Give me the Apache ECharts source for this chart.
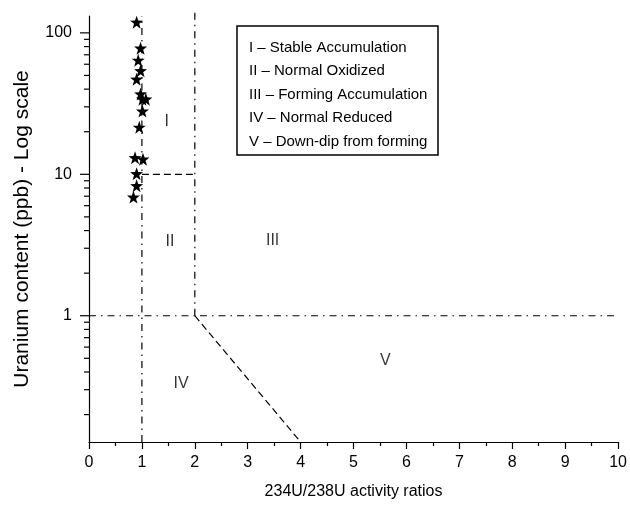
<!DOCTYPE html>
<html>
<head>
<meta charset="utf-8">
<script src="https://cdn.jsdelivr.net/npm/echarts@6/dist/echarts.min.js"></script>
<style>
  html, body { margin: 0; padding: 0; background: #fff; }
  #main { width: 630px; height: 505px; }
</style>
</head>
<body>
<div id="main"></div>
<script>
// samples: 234U/238U ratio and uranium content (ppb)
const ratios = [0.90, 0.975, 0.93, 0.975, 0.90, 0.975, 1.01, 1.075, 1.01, 0.95, 0.87, 1.02, 0.90, 0.90, 0.84]
const uranium = [119, 78, 64, 54, 47, 37, 34, 34, 28, 21.5, 13.1, 12.8, 10.1, 8.3, 6.9]

// axis extents
const xMin = 0
const xMax = 10
const yMin = 0.128
const yMax = 131.6

// y tick values (log axis)
const yMajor = [1, 10, 100]
const yMinor = [0.2, 0.3, 0.4, 0.5, 0.6, 0.7, 0.8, 0.9,
  2, 3, 4, 5, 6, 7, 8, 9,
  20, 30, 40, 50, 60, 70, 80, 90]

// field boundaries
const lineX1 = [[1, yMin], [1, yMax]]
const lineX2 = [[2, 1], [2, 140]]
const lineY1 = [[0, 1], [10, 1]]
const lineY10 = [[1, 10], [2, 10]]
const lineDiag = [[2, 1], [4, yMin]]

// field labels
const fieldNames = ['I', 'II', 'III', 'IV', 'V']
const fieldX = [1.47, 1.53, 3.47, 1.74, 5.6]
const fieldY = [23.7, 3.36, 3.4, 0.333, 0.483]

const legendLines = [
  'I – Stable Accumulation',
  'II – Normal Oxidized',
  'III – Forming Accumulation',
  'IV – Normal Reduced',
  'V – Down-dip from forming'
]

const FONT = '"Liberation Sans", Arial, Helvetica, sans-serif'
const STAR = 'path://M0,-10 L2.35,-3.24 L9.51,-3.09 L3.8,1.24 L5.88,8.09 L0,4 L-5.88,8.09 L-3.8,1.24 L-9.51,-3.09 L-2.35,-3.24 Z'

const chart = echarts.init(document.getElementById('main'))

function boundary (data, dash) {
  return {
    type: 'line',
    data: data,
    symbol: 'none',
    silent: true,
    clip: false,
    lineStyle: { color: '#000', width: 1.2, type: dash }
  }
}

const dashDot = [7, 5, 1.5, 5]
const dashed = [7, 4]

const option = {
  animation: false,
  backgroundColor: '#fff',
  textStyle: { fontFamily: FONT },
  grid: { left: 89, right: 11, top: 16, bottom: 60, containLabel: false },
  xAxis: {
    type: 'value',
    min: xMin,
    max: xMax,
    interval: 1,
    name: '234U/238U activity ratios',
    nameLocation: 'middle',
    nameGap: 42,
    nameTextStyle: { fontSize: 16, color: '#000', fontFamily: FONT },
    axisLine: { show: true, lineStyle: { color: '#000', width: 1.2 } },
    axisTick: { show: true, inside: false, length: 7, lineStyle: { color: '#000', width: 1.2 } },
    minorTick: { show: true, splitNumber: 2, length: 4, lineStyle: { color: '#000', width: 1.2 } },
    axisLabel: { fontSize: 16, color: '#000', margin: 13, fontFamily: FONT },
    splitLine: { show: false },
    minorSplitLine: { show: false }
  },
  yAxis: {
    type: 'log',
    logBase: 10,
    min: yMin,
    max: yMax,
    name: 'Uranium content (ppb) - Log scale',
    nameLocation: 'middle',
    nameGap: 56,
    nameTextStyle: { fontSize: 21, color: '#000', fontFamily: FONT },
    axisLine: { show: true, lineStyle: { color: '#000', width: 1.2 } },
    axisTick: { show: false },
    axisLabel: {
      fontSize: 16,
      color: '#000',
      margin: 17,
      fontFamily: FONT,
      showMinLabel: false,
      showMaxLabel: false,
      formatter: function (v) {
        const l = Math.log10(v)
        return Math.abs(l - Math.round(l)) < 1e-6 ? String(Math.round(v)) : ''
      }
    },
    splitLine: { show: false }
  },
  graphic: [
    {
      type: 'rect',
      shape: { x: 237, y: 26, width: 201, height: 129 },
      style: { fill: '#fff', stroke: '#000', lineWidth: 1.5 },
      z: 10
    },
    {
      type: 'text',
      x: 249,
      y: 36,
      style: {
        text: legendLines.join('\n'),
        font: '15px ' + FONT,
        lineHeight: 23.5,
        fill: '#000'
      },
      z: 11
    }
  ],
  series: [
    boundary(lineX1, dashDot),
    boundary(lineX2, dashDot),
    boundary(lineY1, dashDot),
    boundary(lineY10, dashed),
    boundary(lineDiag, dashed),
    {
      // y-axis ticks on the log scale
      type: 'scatter',
      silent: true,
      clip: false,
      data: yMajor.map(v => [0, v]),
      symbol: 'rect',
      symbolSize: [9, 1.2],
      symbolOffset: [-4.5, 0],
      itemStyle: { color: '#000', opacity: 1 }
    },
    {
      type: 'scatter',
      silent: true,
      clip: false,
      data: yMinor.map(v => [0, v]),
      symbol: 'rect',
      symbolSize: [5, 1.2],
      symbolOffset: [-2.5, 0],
      itemStyle: { color: '#000', opacity: 1 }
    },
    {
      type: 'scatter',
      silent: true,
      data: fieldNames.map((n, i) => ({ name: n, value: [fieldX[i], fieldY[i]] })),
      symbolSize: 1,
      itemStyle: { color: 'transparent' },
      label: {
        show: true,
        position: 'inside',
        formatter: '{b}',
        fontSize: 16,
        color: '#000',
        fontFamily: FONT
      }
    },
    {
      type: 'scatter',
      silent: true,
      data: ratios.map((r, i) => [r, uranium[i]]),
      symbol: STAR,
      symbolSize: 13,
      itemStyle: { color: '#000', opacity: 1 },
      z: 5
    }
  ]
}

chart.setOption(option)
</script>
</body>
</html>
